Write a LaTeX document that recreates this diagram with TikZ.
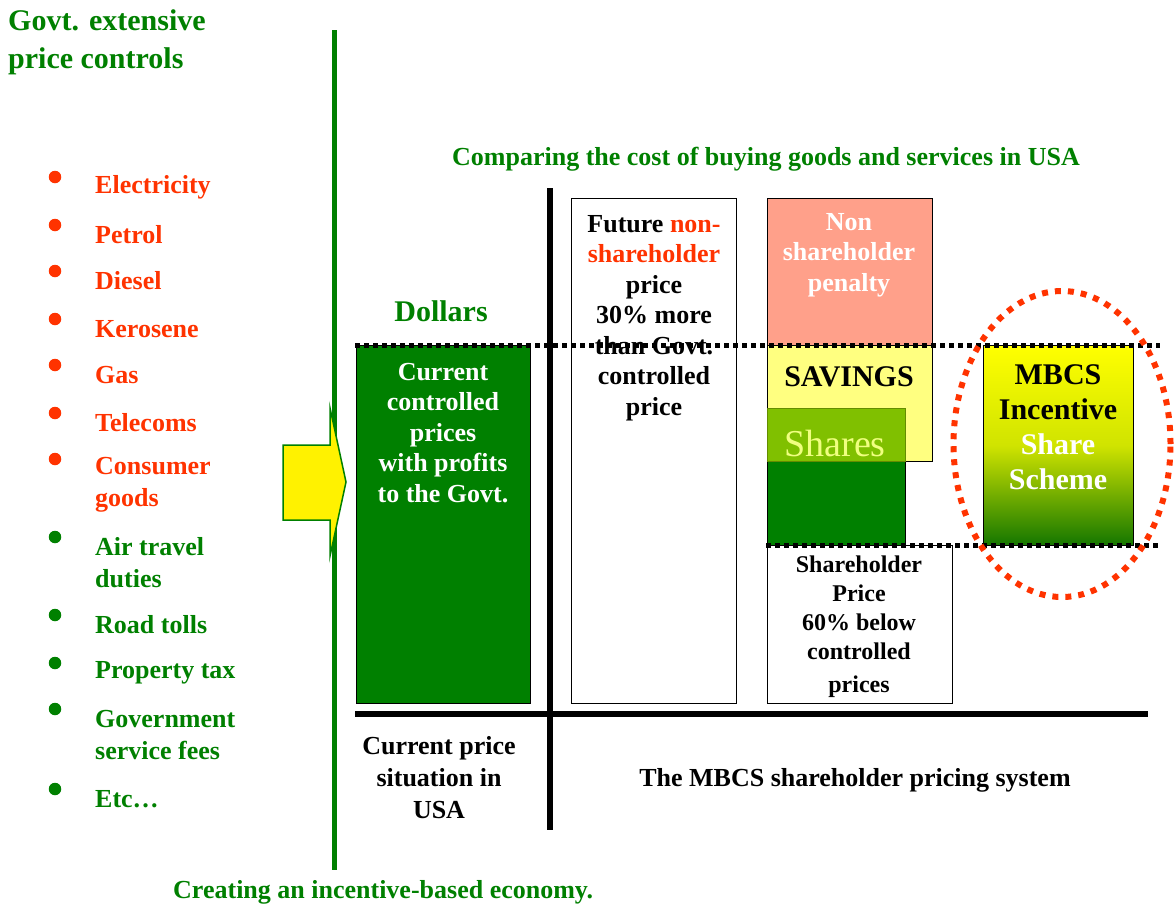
\documentclass[tikz,border=0pt]{standalone}
\usepackage{fontspec}
\setmainfont{Liberation Serif}
\usepackage{tikz}
\usetikzlibrary{shapes.geometric, positioning}
\definecolor{mgreen}{RGB}{0,128,0}
\definecolor{mred}{RGB}{255,51,0}
\definecolor{salmon}{RGB}{255,160,138}
\definecolor{lyellow}{RGB}{255,255,128}
\definecolor{sharegreen}{RGB}{128,192,0}
\definecolor{shareedge}{RGB}{100,140,0}
\definecolor{sharetext}{RGB}{240,255,128}
\definecolor{darkgrad}{RGB}{20,118,0}
\tikzset{
  lbl/.style={inner sep=0pt, align=center, font=\fontsize{26}{30.5}\selectfont\bfseries},
  item/.style={inner sep=0pt, anchor=west, align=left, font=\fontsize{26}{32}\selectfont\bfseries},
  dot/.style={circle, inner sep=0pt, minimum size=12.5pt},
  bar/.style={rectangle, draw, line width=1.2pt, inner sep=0pt, anchor=north west},
  level/.style={line width=5pt, dash pattern=on 5pt off 4pt},
  axis/.style={line width=6pt},
}
\begin{document}
\begin{tikzpicture}[x=1pt, y=-1pt]
  \useasboundingbox (0,0) rectangle (1174,903);

  % Title and list of controls
  \node[item, font=\fontsize{30}{38}\selectfont\bfseries, text=mgreen] (title) at (8,42) {Govt. extensive\\price controls};

  \node[dot, fill=mred] (b1) at (55,177) {};
  \node[item, text=mred] (electricity) at (95,187) {Electricity};
  \node[dot, fill=mred] (b2) at (55,225) {};
  \node[item, text=mred] (petrol) at (95,235) {Petrol};
  \node[dot, fill=mred] (b3) at (55,271) {};
  \node[item, text=mred] (diesel) at (95,281) {Diesel};
  \node[dot, fill=mred] (b4) at (55,319) {};
  \node[item, text=mred] (kerosene) at (95,329) {Kerosene};
  \node[dot, fill=mred] (b5) at (55,365) {};
  \node[item, text=mred] (gas) at (95,375) {Gas};
  \node[dot, fill=mred] (b6) at (55,413) {};
  \node[item, text=mred] (telecoms) at (95,423) {Telecoms};
  \node[dot, fill=mred] (b7) at (55,459) {};
  \node[item, text=mred] (consumer) at (95,485) {Consumer\\goods};
  \node[dot, fill=mgreen] (b8) at (55,537) {};
  \node[item, text=mgreen] (air) at (95,563) {Air travel\\duties};
  \node[dot, fill=mgreen] (b9) at (55,615) {};
  \node[item, text=mgreen] (road) at (95,625) {Road tolls};
  \node[dot, fill=mgreen] (b10) at (55,663) {};
  \node[item, text=mgreen] (property) at (95,673) {Property tax};
  \node[dot, fill=mgreen] (b11) at (55,709) {};
  \node[item, text=mgreen] (fees) at (95,735) {Government\\service fees};
  \node[dot, fill=mgreen] (b12) at (55,789) {};
  \node[item, text=mgreen] (etc) at (95,799) {Etc…};

  % Divider and arrow
  \coordinate (divtop) at (334,30);
  \coordinate (divbot) at (334,870);
  \draw[mgreen, line width=5pt] (divtop) -- (divbot);
  \draw[draw=mgreen, fill=yellow, line width=1.5pt, line join=miter]
    (283,445) -- (330,445) -- (330,408) -- (346,482) -- (330,556) -- (330,520) -- (283,520) -- cycle;

  % Headings
  \node[lbl, text=mgreen] (compare) at (766,159) {Comparing the cost of buying goods and services in USA};
  \node[lbl, text=mgreen, font=\fontsize{30}{30}\selectfont\bfseries] (dollars) at (441,311) {Dollars};

  % Current prices
  \node[bar, fill=mgreen, minimum width=174pt, minimum height=358pt] (cur) at (356,345) {};
  \node[lbl, text=white] (curtxt) at (443,433) {Current\\controlled\\prices\\with profits\\to the Govt.};

  % Future non-shareholder price
  \node[bar, fill=white, minimum width=165pt, minimum height=505pt] (fut) at (571,198) {};
  \node[lbl] (futtxt) at (654,318) {Future \textcolor{mred}{non-}\\\textcolor{mred}{shareholder}\\price\\30\% more\\than Govt.\\controlled\\price};

  % Shareholder column
  \node[bar, fill=salmon, minimum width=165pt, minimum height=147pt] (pen) at (767,198) {};
  \node[lbl, text=white] (pentxt) at (849,255) {Non\\shareholder\\penalty};
  \node[bar, fill=lyellow, minimum width=165pt, minimum height=116pt] (sav) at (767,345) {};
  \node[lbl, font=\fontsize{30}{30}\selectfont\bfseries] (savtxt) at (849,377) {SAVINGS};
  \node[bar, fill=mgreen, minimum width=138pt, minimum height=84pt] (base) at (767,461) {};
  \node[bar, fill=sharegreen, draw=shareedge, minimum width=138pt, minimum height=53pt] (shares) at (767,408) {};
  \node[lbl, text=sharetext, font=\fontsize{38}{38}\selectfont] (sharestxt) at (835,443) {Shares};
  \node[bar, fill=white, minimum width=185pt, minimum height=158pt] (hold) at (767,545) {};
  \node[lbl, font=\fontsize{24}{29}\selectfont\bfseries] (holdtxt) at (859,627) {Shareholder\\Price\\60\% below\\controlled\\[4pt]prices};

  % MBCS scheme
  \node[bar, top color=yellow, bottom color=darkgrad, middle color=yellow!80!darkgrad, minimum width=150pt, minimum height=200pt] (mbcs) at (983,345) {};
  \node[lbl, font=\fontsize{30}{35}\selectfont\bfseries] (mbcstxt) at (1058,427) {MBCS\\Incentive\\\textcolor{white}{Share}\\\textcolor{white}{Scheme}};

  % Axes
  \coordinate (yax top) at (550,188);
  \coordinate (yax bot) at (550,830);
  \coordinate (xax left) at (355,714);
  \coordinate (xax right) at (1148,714);
  \draw[axis] (yax top) -- (yax bot);
  \draw[axis] (xax left) -- (xax right);

  % Price levels
  \coordinate (upper left) at (355,345);
  \coordinate (upper right) at (1160,345);
  \coordinate (lower left) at (766,545);
  \coordinate (lower right) at (1160,545);
  \draw[level] (upper left) -- (upper right);
  \draw[level] (lower left) -- (lower right);

  % Highlight
  \node[ellipse, draw=mred, line width=6pt, dash pattern=on 6pt off 7pt, minimum width=217pt, minimum height=306pt, inner sep=0pt] (ring) at (1062,444) {};

  % Axis labels
  \node[lbl, font=\fontsize{26}{32}\selectfont\bfseries] (nowtxt) at (439,778) {Current price\\situation in\\USA};
  \node[lbl] (systxt) at (855,780) {The MBCS shareholder pricing system};
  \node[lbl, anchor=west, text=mgreen] (motto) at (173,892) {Creating an incentive-based economy.};
\end{tikzpicture}
\end{document}
